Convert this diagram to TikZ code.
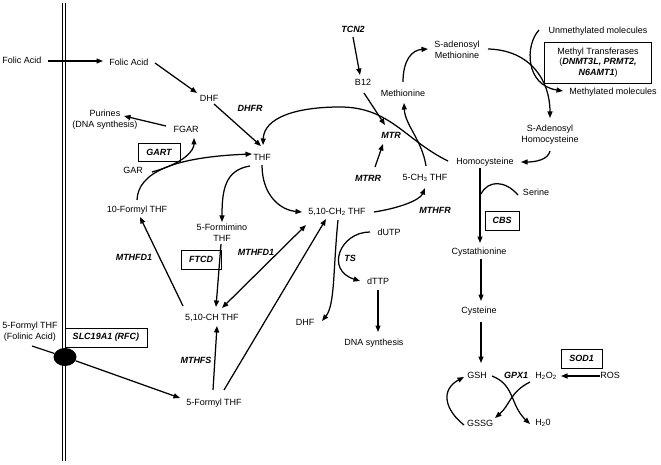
\documentclass[tikz,border=0pt]{standalone}
\usepackage{fontspec}
\setmainfont{Liberation Sans}
\usetikzlibrary{arrows.meta,calc,shapes.geometric}
\newcommand{\fs}{\fontsize{9}{11}\selectfont}
\begin{document}
\begin{tikzpicture}[x=1pt,y=-1pt,
  every node/.style={font=\fs, inner sep=1pt},
  lbl/.style={font=\fs\bfseries\itshape},
  boxed/.style={draw, line width=0.9pt, inner sep=0pt, font=\fs\bfseries\itshape},
  arr/.style={line width=1.25pt, -{Triangle[length=6.5pt,width=5pt]}},
  darr/.style={line width=1.25pt, {Triangle[length=6.5pt,width=5pt]}-{Triangle[length=6.5pt,width=5pt]}},
  ln/.style={line width=1.25pt},
  memb/.style={line width=1pt}
]
\useasboundingbox (0,0) rectangle (661,465);
% membrane
\draw[memb] (62.9,3) -- (62.9,461);
\draw[memb] (65.5,3) -- (65.5,461);
\node[ellipse, fill=black, minimum width=23pt, minimum height=18pt, inner sep=0pt] (pore) at (65,357) {};

% nodes
\node (fa1) at (22,60) {Folic Acid};
\node (fa2) at (129,62) {Folic Acid};
\node (dhf) at (209,98) {DHF};
\node[lbl] (dhfr) at (250,108) {DHFR};
\node (thf) at (262,157) {THF};
\node[align=center] (pur) at (105,120) {Purines\\(DNA synthesis)};
\node (fgar) at (186,129) {FGAR};
\node[boxed, minimum width=42pt, minimum height=18pt] (gart) at (159,152) {GART};
\node (gar) at (133,170) {GAR};
\node (f10) at (137,210) {10-Formyl THF};
\node[align=center] (fim) at (222,233) {5-Formimino\\THF};
\node[boxed, minimum width=40pt, minimum height=19pt] (ftcd) at (201,259.5) {FTCD};
\node (ch) at (212,318) {5,10-CH THF};
\node[lbl] (mthfda) at (134,257) {MTHFD1};
\node[lbl] (mthfdb) at (256,252) {MTHFD1};
\node (ch2) at (337,212) {5,10-CH\textsubscript{2} THF};
\node (f5) at (214,403) {5-Formyl THF};
\node[lbl] (mthfs) at (196,360) {MTHFS};
\node[align=center] (f5out) at (30,332) {5-Formyl THF\\(Folinic Acid)};
\node[boxed, minimum width=82pt, minimum height=19pt] (slc) at (106,337.5) {SLC19A1 (RFC)};
\node[lbl] (tcn2) at (353,29) {TCN2};
\node (b12) at (363,82) {B12};
\node[lbl] (mtr) at (391,135) {MTR};
\node[lbl] (mtrr) at (368,178) {MTRR};
\node (ch3) at (425,178) {5-CH\textsubscript{3} THF};
\node (met) at (403,93) {Methionine};
\node[align=center] (sam) at (457,50) {S-adenosyl\\Methionine};
\node (unm) at (598,31) {Unmethylated molecules};
\node[draw, line width=0.9pt, inner sep=0pt, minimum width=107pt, minimum height=41pt, align=center, font=\fontsize{9}{10.5}\selectfont] (mtase) at (598,62.5) {Methyl Transferases\\(\textbf{\textit{DNMT3L, PRMT2,}}\\\textbf{\textit{N6AMT1}})};
\node (methd) at (613,92) {Methylated molecules};
\node[align=center] (sah) at (550,135) {S-Adenosyl\\Homocysteine};
\node (hcy) at (485,162) {Homocysteine};
\node (ser) at (536,192) {Serine};
\node[boxed, minimum width=34pt, minimum height=19pt] (cbs) at (502,220.5) {CBS};
\node (cth) at (479,252) {Cystathionine};
\node (cys) at (479,311) {Cysteine};
\node (gsh) at (477,375) {GSH};
\node[lbl] (gpx) at (516,375) {GPX1};
\node (h2o2) at (546,376) {H\textsubscript{2}O\textsubscript{2}};
\node (ros) at (610,375) {ROS};
\node[boxed, minimum width=41pt, minimum height=19pt] (sod) at (581.5,358.5) {SOD1};
\node (gssg) at (480,423) {GSSG};
\node (h2o) at (543,423) {H\textsubscript{2}0};
\node[lbl] (mthfr) at (435,210) {MTHFR};
\node (dhf2) at (305,322) {DHF};
\node (dutp) at (389,232) {dUTP};
\node[lbl] (ts) at (350,258) {TS};
\node (dttp) at (378,281) {dTTP};
\node (dna) at (374,343) {DNA synthesis};

% connectors
\draw[arr] ($(fa1)+(26,1)$) -- ($(fa2)+(-26,-1)$);
\draw[arr] ($(fa2)+(26,1)$) -- ($(dhf)+(-12,-5)$);
\draw[arr] ($(dhf)+(5,6)$) -- ($(thf)+(-1,-11)$);
\draw[arr] ($(fgar)+(-20,-3)$) -- ($(pur)+(19,-4)$);
\draw[arr] ($(gar)+(19,2)$) .. controls (185,163) and (194,150) .. ($(fgar)+(8,9)$);
\draw[arr] ($(f10)+(0,-10)$) .. controls (138,172) and (175,157) .. ($(thf)+(-10,-3)$);
\draw[arr] ($(thf)+(-12,9)$) .. controls (225,170) and (222,190) .. ($(fim)+(0,-11)$);
\draw[arr] ($(thf)+(0,8)$) .. controls (262,195) and (280,210) .. ($(ch2)+(-35,0)$);
\draw[arr] ($(fim)+(-1,11)$) -- ($(ch)+(4,-11)$);
\draw[arr] ($(ch)+(-29,-12)$) -- ($(f10)+(3,7)$);
\draw[darr] ($(ch)+(10,-10)$) -- ($(ch2)+(-31,13)$);
\draw[arr] ($(f5)+(10,-13)$) -- ($(ch2)+(-11,7)$);
\draw[arr] ($(f5)+(-1,-13)$) -- ($(ch)+(5,8)$);
\draw[arr] ($(f5out)+(2,14)$) -- (pore) -- ($(f5)+(-34,-5)$);
\draw[arr] ($(hcy)+(-37,-1)$) .. controls (405,140) and (390,107) .. (340,107)
   .. controls (295,107) and (264,118) .. ($(thf)+(1,-12)$);
\draw[arr] ($(tcn2)+(0,8)$) -- ($(b12)+(-3,-7)$);
\draw[arr] ($(b12)+(1,11)$) -- ($(mtr)+(-6,-10)$);
\draw[arr] ($(mtrr)+(7,-11)$) -- ($(mtr)+(-8,9)$);
\draw[arr] ($(ch3)+(1,-12)$) .. controls (422,140) and (405,125) .. ($(met)+(1,10)$);
\draw[arr] ($(met)+(0,-11)$) .. controls (403,60) and (412,50) .. ($(sam)+(-29,-1)$);
\draw[arr] ($(sam)+(31,-1)$) .. controls (530,50) and (550,80) .. ($(sah)+(0,-17)$);
\draw[arr] ($(unm)+(-59,-1)$) .. controls (525,45) and (525,85) .. ($(methd)+(-50,-1)$);
\draw[arr] ($(sah)+(0,16)$) .. controls (548,160) and (535,162) .. ($(hcy)+(36,0)$);
\draw[arr] ($(hcy)+(-5,6)$) -- ($(cth)+(1,-9)$);
\draw[ln] ($(hcy)+(-4,32)$) .. controls (488,180) and (505,180) .. ($(ser)+(-18,3)$);
\draw[arr] ($(cth)+(2,7)$) -- ($(cys)+(2,-10)$);
\draw[arr] ($(cys)+(2,11)$) -- ($(gsh)+(4,-12)$);
\draw[arr] ($(ros)+(-10,1)$) -- ($(h2o2)+(15,0)$);
\draw[arr] ($(gsh)+(15,1)$) .. controls (515,385) and (510,405) .. ($(h2o)+(-13,1)$);
\draw[arr] ($(h2o2)+(-16,6)$) .. controls (510,392) and (510,405) .. ($(gssg)+(15,-5)$);
\draw[arr] ($(gssg)+(-16,2)$) .. controls (445,410) and (440,390) .. ($(gsh)+(-13,2)$);
\draw[arr] ($(ch2)+(37,0)$) .. controls (400,208) and (420,200) .. ($(ch3)+(0,10)$);
\draw[arr] ($(ch2)+(1,8)$) .. controls (333,270) and (335,305) .. ($(dhf2)+(17,-1)$);
\draw[arr] ($(dutp)+(-19,0)$) .. controls (340,232) and (325,270) .. ($(dttp)+(-18,0)$);
\draw[arr] ($(dttp)+(0,9)$) -- ($(dna)+(4,-11)$);
\end{tikzpicture}
\end{document}
